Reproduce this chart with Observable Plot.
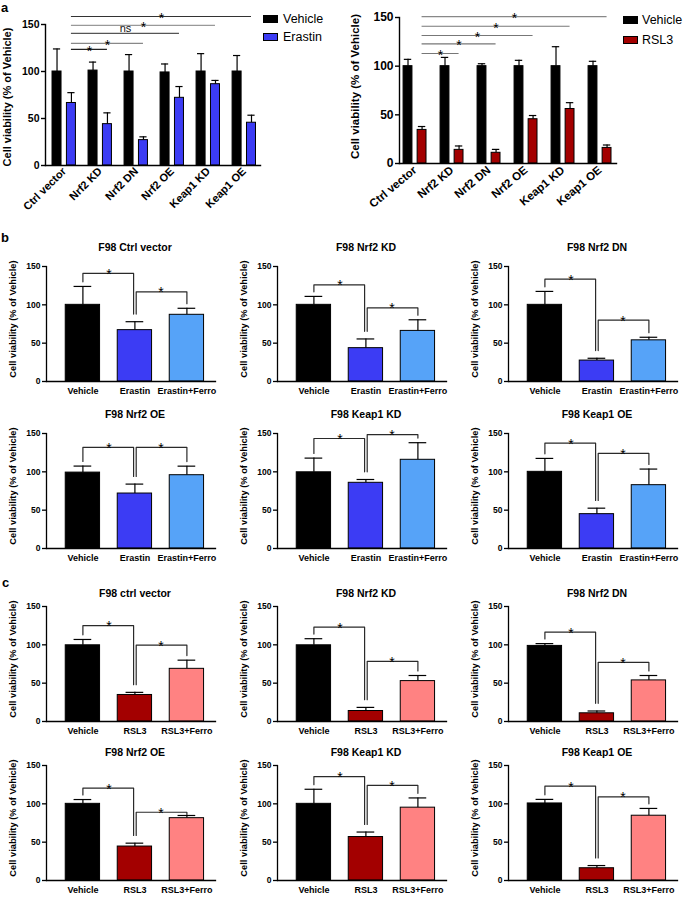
<!DOCTYPE html>
<html><head><meta charset="utf-8">
<script src="https://cdn.jsdelivr.net/npm/d3@7"></script>
<script src="https://cdn.jsdelivr.net/npm/@observablehq/plot@0.6"></script>
<style>
body{margin:0;background:#fff;}
#fig{position:relative;width:685px;height:898px;overflow:hidden;background:#fff;font-family:"Liberation Sans",Arial,sans-serif;color:#000;}
.letter{position:absolute;font-weight:bold;font-size:13px;line-height:13px;}
.sw{position:absolute;width:15px;height:8px;border:1px solid #000;box-sizing:border-box;}
.lt{position:absolute;font-size:12.5px;line-height:14px;white-space:nowrap;}
</style></head><body><div id="fig"></div>
<script>
// ---------- DATA ----------
const YLABEL = "Cell viability (% of Vehicle)";
// Panel a
const groups = ["Ctrl vector", "Nrf2 KD", "Nrf2 DN", "Nrf2 OE", "Keap1 KD", "Keap1 OE"];
const aErastinVehicle = [100, 101, 100, 99, 100, 100];
const aErastinVehicleErr = [24, 9, 18, 9, 19, 17];
const aErastin = [66.5, 44, 27, 72, 86.5, 45.5];
const aErastinErr = [11, 12, 3.5, 12, 4, 8];
const aErastinSig = ["*", "*", "ns", "*", "*"];
const aErastinSigLevel = [123.5, 130, 140.5, 149, 158.5];

const aRslVehicle = [100, 100, 100, 100, 100, 100];
const aRslVehicleErr = [7, 9, 2.5, 6, 20, 5];
const aRsl = [34.5, 14, 11, 45.5, 56, 16];
const aRslErr = [3.5, 4, 3.5, 3.8, 6.5, 3];
const aRslSig = ["*", "*", "*", "*", "*"];
const aRslSigLevel = [113, 123, 131.5, 141, 151];

// Panel b
const bTitles = ["F98 Ctrl vector", "F98 Nrf2 KD", "F98 Nrf2 DN", "F98 Nrf2 OE", "F98 Keap1 KD", "F98 Keap1 OE"];
const bConds = ["Vehicle", "Erastin", "Erastin+Ferro"];
const bMeans = [[100, 67, 87], [100, 43.5, 66], [100, 27.3, 53.7], [99, 71.7, 95.6], [99.4, 85.7, 115.7], [100, 44.8, 82.6]];
const bErrs = [[24, 11, 8.5], [11, 12, 14.5], [17.5, 3, 4], [8.5, 12.3, 11.8], [18.5, 4.3, 22.3], [17.5, 7.8, 21]];
const bBracket = [[141, 117], [126, 96], [133.5, 80], [132, 132], [143.5, 148.5], [137.5, 124]];

// Panel c
const cTitles = ["F98 ctrl vector", "F98 Nrf2 KD", "F98 Nrf2 DN", "F98 Nrf2 OE", "F98 Keap1 KD", "F98 Keap1 OE"];
const cConds = ["Vehicle", "RSL3", "RSL3+Ferro"];
const cMeans = [[99.4, 34.6, 68.7], [99.4, 13.7, 52.7], [98.6, 10.7, 53.6], [100, 44.3, 81.3], [100, 56.7, 95], [100.5, 16, 84.5]];
const cErrs = [[7.6, 3.4, 11.3], [8.6, 4.7, 7.3], [3, 3, 6.4], [5.6, 4.4, 3.5], [19, 6.5, 12.7], [5.3, 3.5, 9.5]];
const cBracket = [[125, 99.5], [123, 78.5], [116.5, 77], [120.5, 89], [135.5, 124], [123, 109]];

// ---------- STYLE ----------
const FONT = "'Liberation Sans', Arial, sans-serif";
const erastinColors = ["#000000", "#3c3cf4", "#56a3f8"];
const rslColors = ["#000000", "#a30000", "#ff8282"];

const fig = document.getElementById("fig");
function place(node, left, top) {
  node.style.position = "absolute";
  node.style.left = left + "px";
  node.style.top = top + "px";
  fig.appendChild(node);
}
function html(cls, text, left, top, extra) {
  const d = document.createElement("div");
  d.className = cls;
  if (text) d.textContent = text;
  d.style.left = left + "px";
  d.style.top = top + "px";
  if (extra) Object.assign(d.style, extra);
  fig.appendChild(d);
}

// ---------- PANEL a ----------
function groupPanel(o) {
  const rows = [];
  groups.forEach((g, gi) => {
    rows.push({g, gi, cond: "Vehicle", x: gi - o.off, mean: o.veh[gi], top: o.veh[gi] + o.vehErr[gi]});
    rows.push({g, gi, cond: o.treat, x: gi + o.off, mean: o.trt[gi], top: o.trt[gi] + o.trtErr[gi]});
  });
  const sig = o.sig.map((t, k) => ({t, x1: o.off, x2: k + 1 + o.off, level: o.levels[k], k}));
  return Plot.plot({
    width: o.W, height: o.H, marginLeft: o.ML, marginTop: o.MT, marginRight: o.MR, marginBottom: o.MB,
    x: {domain: o.xDomain},
    y: {domain: [0, 150]},
    color: {domain: ["Vehicle", o.treat], range: ["#000000", o.color]},
    style: {fontFamily: FONT, background: "transparent", overflow: "visible", color: "#000"},
    marks: [
      Plot.ruleY(sig, {y: "level", x1: "x1", x2: "x2", stroke: d => o.sigColors[d.k], strokeWidth: 1.2}),
      Plot.text(sig.filter(d => d.t === "*"), {x: d => (d.x1 + d.x2) / 2, y: "level", text: "t", lineAnchor: "bottom", dy: 6.5, fontSize: 14, fill: "#000"}),
      Plot.text(sig.filter(d => d.t !== "*"), {x: d => (d.x1 + d.x2) / 2, y: "level", text: "t", lineAnchor: "bottom", dy: -1, fontSize: 11, fill: "#111"}),
      Plot.ruleX(rows, {x: "x", y1: "mean", y2: "top", stroke: "#000", strokeWidth: 1.2}),
      Plot.ruleY(rows, {y: "top", x1: d => d.x - o.cap, x2: d => d.x + o.cap, stroke: "#000", strokeWidth: 1.2}),
      Plot.rectY(rows, {x1: d => d.x - o.hw, x2: d => d.x + o.hw, y1: 0, y2: "mean", fill: "cond", stroke: "#000", strokeWidth: 1}),
      Plot.frame({anchor: "left", strokeWidth: 1.4}),
      Plot.frame({anchor: "bottom", strokeWidth: 1.4}),
      Plot.axisY({ticks: [0, 50, 100, 150], tickSize: 4, tickPadding: 2, strokeWidth: 1.4, fontSize: o.tickFont, fontWeight: "bold", label: null}),
      Plot.axisX({ticks: d3.range(groups.length), tickFormat: i => groups[i], tickSize: 0, tickRotate: o.rot, tickPadding: o.xPad, fontSize: o.xFont, fontWeight: "bold", label: null}),
      Plot.text([YLABEL], {frameAnchor: "left", textAnchor: "middle", lineAnchor: "middle", rotate: -90, dx: o.ylDx, dy: o.ylDy, fontSize: o.ylFont, fontWeight: "bold"})
    ]
  });
}

place(groupPanel({
  veh: aErastinVehicle, vehErr: aErastinVehicleErr, trt: aErastin, trtErr: aErastinErr,
  treat: "Erastin", color: erastinColors[1], sig: aErastinSig, levels: aErastinSigLevel,
  sigColors: ["#222", "#888", "#555", "#999", "#333"],
  W: 270, H: 225, ML: 45, MT: 24, MR: 10, MB: 60, xDomain: [-0.52, 5.45],
  off: 0.2, hw: 0.125, cap: 0.1, rot: -45, xPad: 4, xFont: 11, tickFont: 10.5,
  ylDx: -38, ylDy: 2, ylFont: 11
}), 0, 0);

place(groupPanel({
  veh: aRslVehicle, vehErr: aRslVehicleErr, trt: aRsl, trtErr: aRslErr,
  treat: "RSL3", color: rslColors[1], sig: aRslSig, levels: aRslSigLevel,
  sigColors: ["#777", "#777", "#777", "#777", "#888"],
  W: 286, H: 223, ML: 59, MT: 17, MR: 10, MB: 60, xDomain: [-0.42, 5.445],
  off: 0.19, hw: 0.12, cap: 0.1, rot: -40, xPad: 5, xFont: 11.5, tickFont: 12,
  ylDx: -44, ylDy: -4, ylFont: 11.5
}), 340, 0);

// legends panel a
html("sw", "", 263, 15, {background: "#000"});
html("lt", "Vehicle", 283, 12);
html("sw", "", 263, 33, {background: erastinColors[1]});
html("lt", "Erastin", 283, 30);
html("sw", "", 623, 16, {background: "#000"});
html("lt", "Vehicle", 642, 13);
html("sw", "", 623, 36, {background: rslColors[1]});
html("lt", "RSL3", 642, 33);

// panel letters
html("letter", "a", 1, 1);
html("letter", "b", 1, 231);
html("letter", "c", 2, 576);

// ---------- PANELS b & c ----------
const SML = 46, SMT = 34, SMR = 12, SMB = 26, SPW = 169, SPH = 115;
function smallPanel(title, conds, means, errs, fills, levels, titleOff) {
  const bars = conds.map((c, i) => ({cond: c, i, mean: means[i], top: means[i] + errs[i]}));
  const hw = 0.33, cap = 0.17, off = 0.025;
  const lines = [];
  const stars = [];
  [[0, 1], [1, 2]].forEach(([a, b], k) => {
    const lvl = levels[k];
    const xa = a + (a === 1 ? off : 0), xb = b - (b === 1 ? off : 0);
    const ga = Math.min(bars[a].top + (a === 1 ? 10 : 6), lvl - 3);
    const gb = Math.min(bars[b].top + (b === 1 ? 10 : 6), lvl - 3);
    lines.push({k, x: xa, y: ga}, {k, x: xa, y: lvl}, {k, x: xb, y: lvl}, {k, x: xb, y: gb});
    stars.push({x: (a + b) / 2, y: lvl, t: "*"});
  });
  return Plot.plot({
    width: SML + SPW + SMR, height: SMT + SPH + SMB,
    marginLeft: SML, marginTop: SMT, marginRight: SMR, marginBottom: SMB,
    x: {domain: [-0.7, 2.55]},
    y: {domain: [0, 150]},
    color: {domain: conds, range: fills},
    style: {fontFamily: FONT, background: "transparent", overflow: "visible", color: "#000"},
    marks: [
      Plot.line(lines, {x: "x", y: "y", z: "k", stroke: "#2a2a2a", strokeWidth: 1.2, curve: "linear"}),
      Plot.text(stars, {x: "x", y: "y", text: "t", lineAnchor: "bottom", dy: 5.5, fontSize: 14, fill: "#000"}),
      Plot.ruleX(bars, {x: "i", y1: "mean", y2: "top", stroke: "#000", strokeWidth: 1.2}),
      Plot.ruleY(bars, {y: "top", x1: d => d.i - cap, x2: d => d.i + cap, stroke: "#000", strokeWidth: 1.2}),
      Plot.rectY(bars, {x1: d => d.i - hw, x2: d => d.i + hw, y1: 0, y2: "mean", fill: "cond", stroke: "#000", strokeWidth: 1}),
      Plot.frame({anchor: "left", strokeWidth: 1.3}),
      Plot.frame({anchor: "bottom", strokeWidth: 1.3}),
      Plot.axisY({ticks: [0, 50, 100, 150], tickSize: 4, tickPadding: 2, strokeWidth: 1.3, fontSize: 8.5, fontWeight: "bold", label: null}),
      Plot.axisX({ticks: [0, 1, 2], tickFormat: i => conds[i], tickSize: 0, tickPadding: 6, fontSize: 9, fontWeight: "bold", label: null}),
      Plot.text([YLABEL], {frameAnchor: "left", textAnchor: "middle", lineAnchor: "middle", rotate: -90, dx: -(SML - 13), dy: -5, fontSize: 9.3, fontWeight: "bold"}),
      Plot.text([title], {frameAnchor: "top", textAnchor: "middle", lineAnchor: "middle", dx: 4, dy: -titleOff, fontSize: 10.5, fontWeight: "bold"})
    ]
  });
}

const colAxisX = [46, 277, 508];
const bRowY150 = [266, 433];
const cRowY150 = [605.5, 765];
bTitles.forEach((t, p) => {
  const r = Math.floor(p / 3), c = p % 3;
  place(smallPanel(t, bConds, bMeans[p], bErrs[p], erastinColors, bBracket[p], 19), colAxisX[c] - SML, bRowY150[r] - SMT);
});
cTitles.forEach((t, p) => {
  const r = Math.floor(p / 3), c = p % 3;
  place(smallPanel(t, cConds, cMeans[p], cErrs[p], rslColors, cBracket[p], 12.5), colAxisX[c] - SML, cRowY150[r] - SMT);
});
</script></body></html>
